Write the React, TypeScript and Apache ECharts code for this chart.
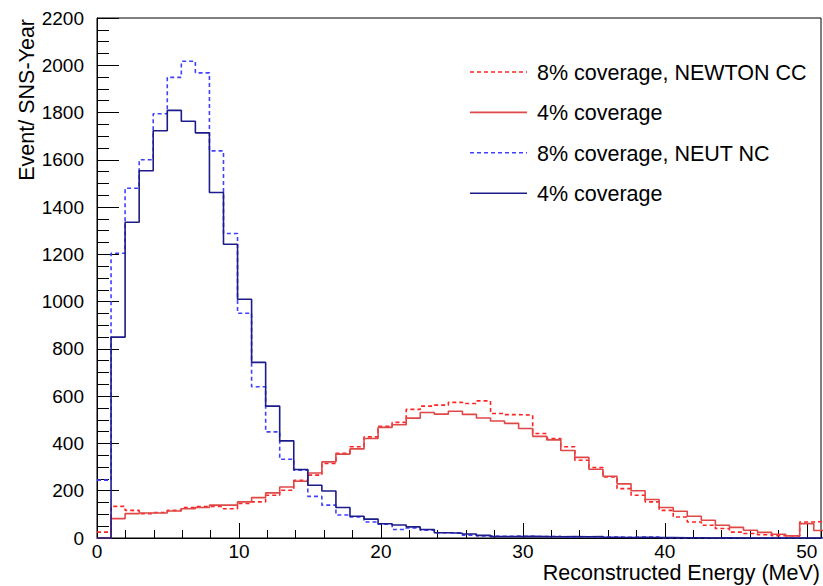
import { useEffect, useRef } from 'react';
import * as echarts from 'echarts';

// Histogram binning (MeV per bin) and axis extents
const BIN_WIDTH = 0.99;
const X_MAX = 51;
const Y_MAX = 2200;
const X_LABEL_TICKS = [0, 10, 20, 30, 40, 50];

// Events per SNS-year in each reconstructed-energy bin
const newtonCC8 = [
  25, 134, 117, 103, 108, 117, 129, 133, 133, 124,
  146, 153, 181, 202, 244, 266, 315, 358, 386, 428,
  473, 489, 544, 558, 562, 574, 569, 580, 527, 522,
  520, 442, 421, 386, 329, 298, 258, 209, 181, 153,
  117, 89, 68, 54, 40, 25, 19, 14, 10, 8, 68, 70,
];
const newtonCC4 = [
  0, 82, 103, 106, 106, 114, 124, 129, 139, 139,
  153, 171, 191, 216, 240, 275, 322, 355, 377, 421,
  468, 479, 507, 531, 524, 536, 523, 508, 495, 485,
  463, 430, 415, 370, 341, 291, 261, 229, 200, 163,
  129, 113, 92, 75, 54, 45, 33, 24, 16, 9, 61, 32,
];
const neutNC8 = [
  245, 1205, 1480, 1600, 1795, 1949, 2017, 1968, 1638, 1288,
  951, 640, 449, 333, 287, 176, 139, 97, 89, 68,
  58, 36, 42, 33, 22, 22, 12, 9, 7, 8,
  7, 6, 7, 4, 5, 4, 4, 3, 4, 4,
  0, 0, 0, 0, 0, 0, 0, 0, 0, 0, 0, 0,
];
const neutNC4 = [
  0, 850, 1336, 1554, 1723, 1809, 1763, 1714, 1462, 1243,
  1010, 743, 558, 411, 290, 223, 199, 129, 92, 80,
  60, 55, 47, 36, 22, 20, 17, 11, 6, 6,
  7, 6, 5, 6, 5, 6, 3, 2, 3, 2,
  2, 1, 1, 0, 1, 0, 0, 0, 0, 0, 0, 0,
];

const seriesNames = [
  '8% coverage, NEWTON CC',
  '4% coverage',
  '8% coverage, NEUT NC',
  '4% coverage',
];

const FONT = '"Liberation Sans", Arial, Helvetica, sans-serif';
const TICK_FONT_SIZE = 19;
const TITLE_FONT_SIZE = 21.5;

const LINE_STYLES = [
  { color: '#ff2424', dash: [4, 3] as number[] | 'solid' },
  { color: '#e04848', dash: 'solid' as number[] | 'solid' },
  { color: '#4040ff', dash: [4, 3] as number[] | 'solid' },
  { color: '#1c1c8a', dash: 'solid' as number[] | 'solid' },
];

// Turn bin contents into step-line vertices (left edge of each bin + closing edge)
function toSteps(values: number[]): number[][] {
  const pts = values.map((v, k) => [k * BIN_WIDTH, v]);
  pts.push([values.length * BIN_WIDTH, values[values.length - 1]]);
  return pts;
}

export default function App() {
  const ref = useRef<HTMLDivElement>(null);

  useEffect(() => {
    if (!ref.current) return;
    const chart = echarts.init(ref.current, undefined, { renderer: 'svg' });
    const datasets = [newtonCC8, newtonCC4, neutNC8, neutNC4];

    const legendTop = 72;
    const legendStep = 40.4;
    const legendGraphics: any[] = [];
    seriesNames.forEach((name, i) => {
      const y = legendTop + i * legendStep;
      legendGraphics.push({
        type: 'line',
        shape: { x1: 470, y1: y, x2: 527, y2: y },
        style: {
          stroke: LINE_STYLES[i].color,
          lineWidth: 1.6,
          lineDash: LINE_STYLES[i].dash === 'solid' ? null : LINE_STYLES[i].dash,
        },
      });
      legendGraphics.push({
        type: 'text',
        x: 537,
        y: y + 1,
        style: {
          text: name,
          fontSize: TITLE_FONT_SIZE,
          fontFamily: FONT,
          fill: '#000',
          align: 'left',
          verticalAlign: 'middle',
        },
      });
    });

    chart.setOption({
      animation: false,
      backgroundColor: '#fff',
      grid: {
        left: 97,
        top: 18,
        right: 2,
        bottom: 48,
        show: true,
        borderColor: '#000',
        borderWidth: 1,
        backgroundColor: 'transparent',
      },
      xAxis: [
        {
          type: 'value',
          min: 0,
          max: X_MAX,
          interval: 2,
          position: 'bottom',
          axisLine: { show: true, lineStyle: { color: '#000', width: 1 } },
          axisTick: { show: true, inside: true, length: 8, lineStyle: { color: '#000' } },
          axisLabel: {
            customValues: X_LABEL_TICKS,
            fontSize: TICK_FONT_SIZE,
            fontFamily: FONT,
            color: '#000',
            margin: 4,
          },
          splitLine: { show: false },
        },
        {
          type: 'value',
          min: 0,
          max: X_MAX,
          interval: 10,
          position: 'bottom',
          axisLine: { show: false },
          axisTick: {
            show: true,
            inside: true,
            length: 15,
            customValues: X_LABEL_TICKS,
            lineStyle: { color: '#000' },
          },
          axisLabel: { show: false },
          splitLine: { show: false },
        },
      ],
      yAxis: {
        type: 'value',
        min: 0,
        max: Y_MAX,
        interval: 200,
        axisLine: { show: true, lineStyle: { color: '#000', width: 1 } },
        axisTick: { show: true, inside: true, length: 22, lineStyle: { color: '#000' } },
        minorTick: { show: true, splitNumber: 4, length: 12, lineStyle: { color: '#000' } },
        splitLine: { show: false },
        minorSplitLine: { show: false },
        axisLabel: {
          fontSize: TICK_FONT_SIZE,
          fontFamily: FONT,
          color: '#000',
          margin: 13,
          formatter: (v: number) => String(v),
        },
      },
      series: datasets.map((values, i) => ({
        name: seriesNames[i],
        type: 'line',
        xAxisIndex: 0,
        yAxisIndex: 0,
        step: 'end',
        symbol: 'none',
        silent: true,
        clip: true,
        z: 3 + i,
        data: toSteps(values),
        lineStyle: {
          color: LINE_STYLES[i].color,
          width: 1.6,
          type: LINE_STYLES[i].dash,
        },
      })),
      graphic: [
        {
          type: 'text',
          x: 27,
          y: 19,
          rotation: Math.PI / 2,
          style: {
            text: 'Event/ SNS-Year',
            fontSize: TITLE_FONT_SIZE,
            fontFamily: FONT,
            fill: '#000',
            align: 'right',
            verticalAlign: 'middle',
          },
        },
        {
          type: 'text',
          x: 820,
          y: 573,
          style: {
            text: 'Reconstructed Energy (MeV)',
            fontSize: TITLE_FONT_SIZE,
            fontFamily: FONT,
            fill: '#000',
            align: 'right',
            verticalAlign: 'middle',
          },
        },
        ...legendGraphics,
      ],
    });

    return () => chart.dispose();
  }, []);

  return (
    <div
      ref={ref}
      style={{ position: 'fixed', left: 0, top: 0, width: 823, height: 586, background: '#fff' }}
    />
  );
}
